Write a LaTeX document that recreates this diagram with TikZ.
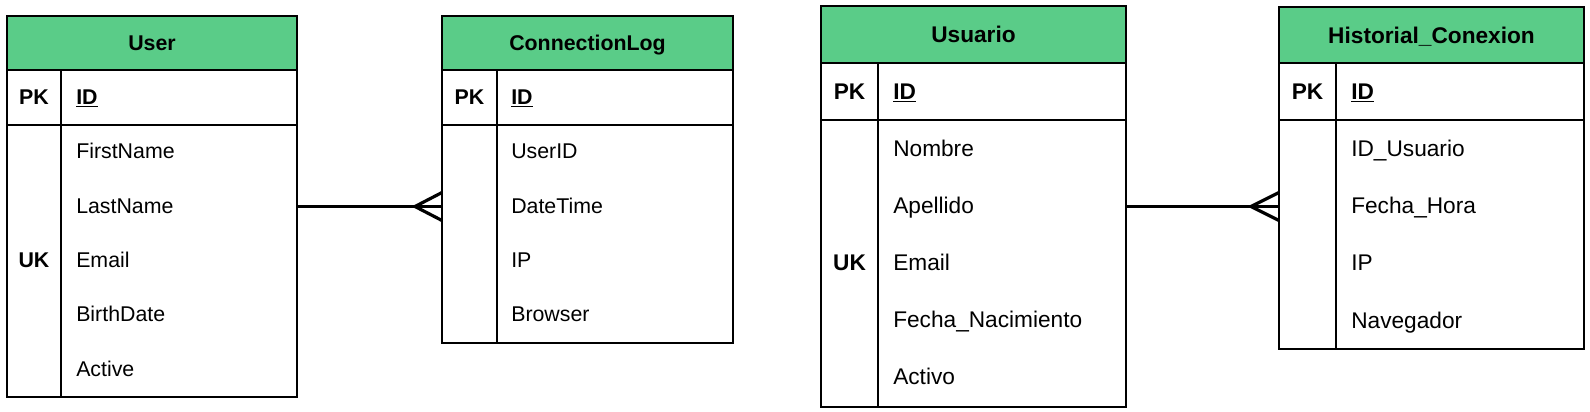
\documentclass[tikz,border=0pt]{standalone}
\usepackage{fontspec}
\setmainfont{Liberation Sans}
\definecolor{headgreen}{RGB}{90,204,136}
\tikzset{
    frame/.style={draw=black, line width=1.5pt, anchor=north west, inner sep=0pt, outer sep=0pt},
    headbox/.style={frame, fill=headgreen, text height=11.5pt, text depth=0pt},
    rule/.style={line width=1.5pt},
    link/.style={line width=2.4pt},
    keytxt/.style={anchor=base, inner sep=0pt},
    attr/.style={anchor=base west, inner sep=0pt},
    small/.style={font=\fontsize{16}{19}\selectfont},
    big/.style={font=\fontsize{17}{20}\selectfont}
}
\begin{document}
\begin{tikzpicture}[x=0.75pt, y=-0.75pt]
                \useasboundingbox (0,0) rectangle (1590,411);
                \fill[white] (0,0) rectangle (1590,411);
                % User
                \node[frame, minimum width=217.5pt, minimum height=285.75pt] (user) at (7,16) {};
                \node[headbox, small, minimum width=217.5pt, minimum height=40.5pt] (userhead) at (7,16) {\textbf{User}};
                \draw[rule] (7,125) -- (297,125);
                \draw[rule] (61,70) -- (61,397);
                \begin{scope}[small]
                \node[keytxt] (userpk) at (34,104.5) {\textbf{PK}};
                \node[attr] (userid) at (76,104.5) {\underline{\textbf{ID}}};
                \node[attr] (userfirst) at (76,158.5) {FirstName};
                \node[attr] (userlast) at (76,213) {LastName};
                \node[keytxt] (useruk) at (34,267.5) {\textbf{UK}};
                \node[attr] (usermail) at (76,267.5) {Email};
                \node[attr] (userbirth) at (76,321.5) {BirthDate};
                \node[attr] (useractive) at (76,376) {Active};
                \end{scope}
                % ConnectionLog
                \node[frame, minimum width=218.25pt, minimum height=245.25pt] (log) at (442,16) {};
                \node[headbox, small, minimum width=218.25pt, minimum height=40.5pt] (loghead) at (442,16) {\textbf{ConnectionLog}};
                \draw[rule] (442,125) -- (733,125);
                \draw[rule] (497,70) -- (497,343);
                \begin{scope}[small]
                \node[keytxt] (logpk) at (469.5,104.5) {\textbf{PK}};
                \node[attr] (logid) at (511,104.5) {\underline{\textbf{ID}}};
                \node[attr] (loguser) at (511,158.5) {UserID};
                \node[attr] (logtime) at (511,213.5) {DateTime};
                \node[attr] (logip) at (511,267.5) {IP};
                \node[attr] (logbrowser) at (511,321.5) {Browser};
                \end{scope}
                % Usuario
                \node[frame, minimum width=228.75pt, minimum height=300.75pt] (usuario) at (821,6) {};
                \node[headbox, big, text height=12.2pt, minimum width=228.75pt, minimum height=42.75pt] (usuariohead) at (821,6) {\textbf{Usuario}};
                \draw[rule] (821,120) -- (1126,120);
                \draw[rule] (878,63) -- (878,407);
                \begin{scope}[big]
                \node[keytxt] (usuariopk) at (849.5,99) {\textbf{PK}};
                \node[attr] (usuarioid) at (893,99) {\underline{\textbf{ID}}};
                \node[attr] (usuarionom) at (893,156) {Nombre};
                \node[attr] (usuarioape) at (893,213) {Apellido};
                \node[keytxt] (usuariouk) at (849.5,270) {\textbf{UK}};
                \node[attr] (usuariomail) at (893,270) {Email};
                \node[attr] (usuariofecha) at (893,327.5) {Fecha\_Nacimiento};
                \node[attr] (usuarioact) at (893,384) {Activo};
                \end{scope}
                % Historial_Conexion
                \node[frame, minimum width=228.75pt, minimum height=256.5pt] (hist) at (1279,7) {};
                \node[headbox, big, text height=12.2pt, minimum width=228.75pt, minimum height=42pt] (histhead) at (1279,7) {\textbf{Historial\_Conexion}};
                \draw[rule] (1279,120) -- (1584,120);
                \draw[rule] (1336,63) -- (1336,349);
                \begin{scope}[big]
                \node[keytxt] (histpk) at (1307.5,99) {\textbf{PK}};
                \node[attr] (histid) at (1351,99) {\underline{\textbf{ID}}};
                \node[attr] (histuser) at (1351,156) {ID\_Usuario};
                \node[attr] (histtime) at (1351,213) {Fecha\_Hora};
                \node[attr] (histip) at (1351,270) {IP};
                \node[attr] (histnav) at (1351,328) {Navegador};
                \end{scope}
                % relations
                \coordinate (login) at (user.east -| log.west);
                \draw[link] (user.east) -- (login);
                \draw[link] ([yshift=10.5pt]login) -- ([xshift=-20.25pt]login) -- ([yshift=-10.5pt]login);
                \coordinate (histin) at (usuario.east -| hist.west);
                \draw[link] (usuario.east) -- (histin);
                \draw[link] ([yshift=10.5pt]histin) -- ([xshift=-21pt]histin) -- ([yshift=-10.5pt]histin);
            \end{tikzpicture}
\end{document}
